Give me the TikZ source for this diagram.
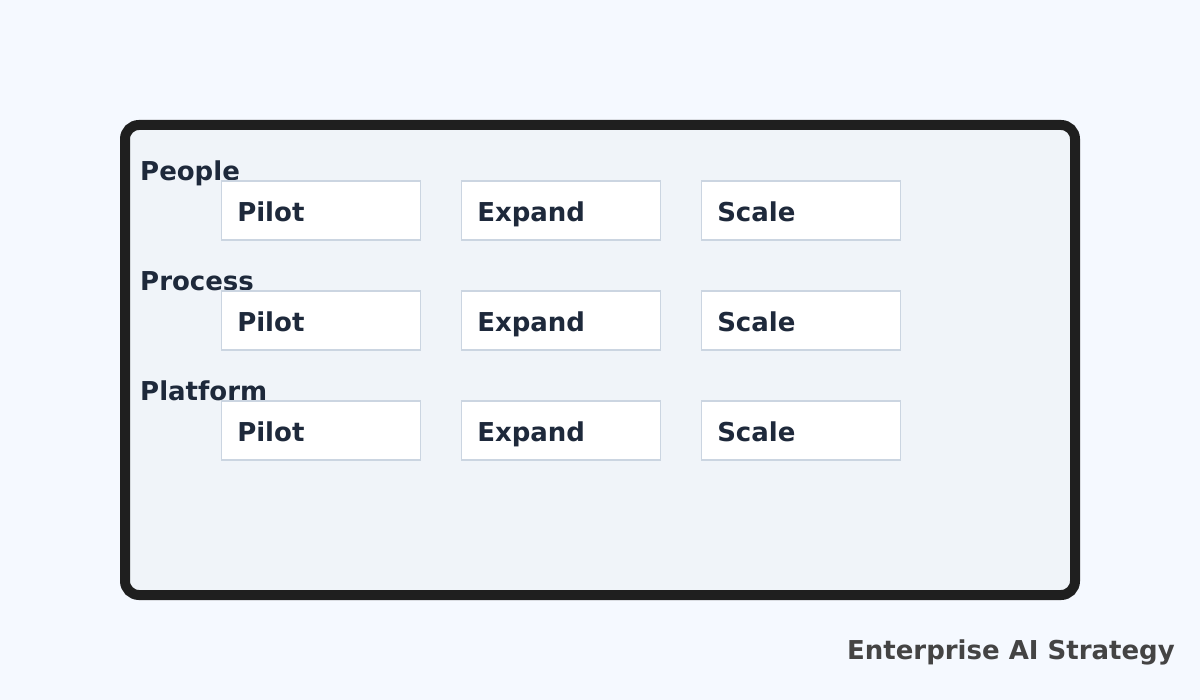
\documentclass[tikz,border=0pt]{standalone}
\usepackage{fontspec}
\setmainfont{DejaVu Sans}
\usepackage{tikz}
\usetikzlibrary{positioning}
\usepackage{xcolor}
\definecolor{pagebg}{HTML}{F5F9FF}
\definecolor{cardbg}{HTML}{F0F4F9}
\definecolor{cardline}{HTML}{1F1F1F}
\definecolor{boxline}{HTML}{CBD5E1}
\definecolor{ink}{HTML}{1E293B}
\definecolor{titleink}{HTML}{444444}
\tikzset{
  phase/.style={draw=boxline, line width=1.5pt, fill=white, anchor=north west,
    minimum width=199pt, minimum height=59pt, text width=167pt, inner xsep=16pt,
    text height=22pt, text depth=0pt,
    align=left, text=ink, font=\bfseries\fontsize{26}{30}\selectfont},
  track/.style={anchor=base west, inner sep=0pt, text=ink,
    font=\bfseries\fontsize{26}{30}\selectfont}
}
\begin{document}
\begin{tikzpicture}[x=1pt,y=-1pt]
      \useasboundingbox[fill=pagebg] (0,0) rectangle (1200,700);
      \draw[cardline, fill=cardbg, line width=10pt, rounded corners=14pt] (125,125) rectangle (1075,595);

      \node[track] (people) at (140,181) {People};
      \node[phase] (people-pilot) at (220.5,180.5) {Pilot};
      \node[phase] (people-expand) at (460.5,180.5) {Expand};
      \node[phase] (people-scale) at (700.5,180.5) {Scale};

      \node[track] (process) at (140,291) {Process};
      \node[phase] (process-pilot) at (220.5,290.5) {Pilot};
      \node[phase] (process-expand) at (460.5,290.5) {Expand};
      \node[phase] (process-scale) at (700.5,290.5) {Scale};

      \node[track] (platform) at (140,401) {Platform};
      \node[phase] (platform-pilot) at (220.5,400.5) {Pilot};
      \node[phase] (platform-expand) at (460.5,400.5) {Expand};
      \node[phase] (platform-scale) at (700.5,400.5) {Scale};

      \node[anchor=base east, inner sep=0pt, text=titleink,
        font=\bfseries\fontsize{26}{30}\selectfont] (title) at (1175,659) {Enterprise AI Strategy};
    \end{tikzpicture}
\end{document}
